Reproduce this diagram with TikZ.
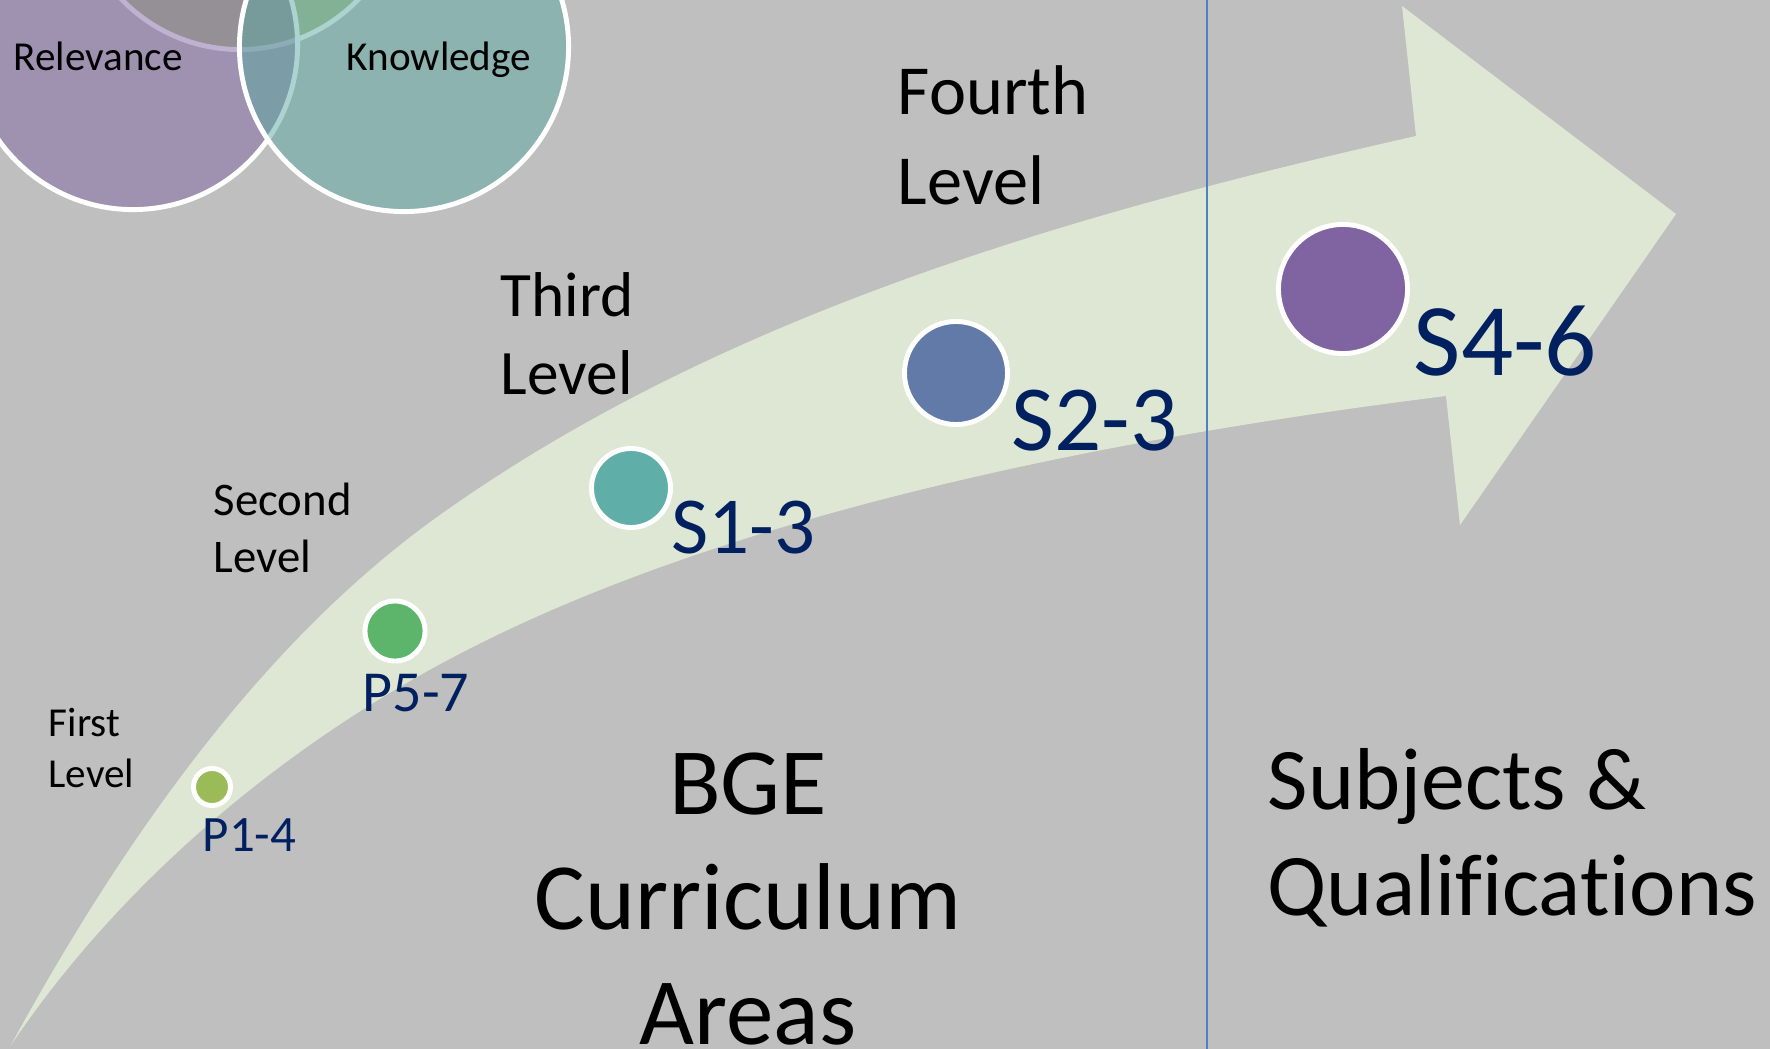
\documentclass[tikz,border=0pt]{standalone}
\usepackage{fontspec}
\setmainfont{Carlito}[Ligatures=CommonOff]
\usetikzlibrary{positioning}
\definecolor{bggray}{RGB}{191,191,191}
\definecolor{arrowgreen}{RGB}{222,231,211}
\definecolor{navyblue}{RGB}{0,32,96}
\definecolor{vennolive}{RGB}{155,187,89}
\definecolor{vennpurple}{RGB}{128,100,162}
\definecolor{vennteal}{RGB}{91,168,160}
\definecolor{dotpone}{RGB}{155,187,89}
\definecolor{dotpfive}{RGB}{92,181,106}
\definecolor{dotsone}{RGB}{95,175,168}
\definecolor{dotstwo}{RGB}{98,122,168}
\definecolor{dotsfour}{RGB}{128,100,162}
\definecolor{divblue}{RGB}{79,129,189}
\tikzset{
  venn/.style={circle, draw=white, line width=1.4pt, fill=#1, fill opacity=0.5, minimum size=3.29cm, inner sep=0pt},
  dot/.style={circle, draw=white, line width=1.4pt, inner sep=0pt},
  lvl/.style={anchor=base west, inner sep=0pt, align=left},
  stage/.style={anchor=base west, inner sep=0pt, text=navyblue},
}

\begin{document}
\begin{tikzpicture}[x=0.01cm, y=-0.01cm]
\useasboundingbox (0,0) rectangle (1770,1049);
\clip (0,0) rectangle (1770,1049);
\fill[bggray] (0,0) rectangle (1770,1049);

% venn at top left
\node[venn=vennolive]  (themes) at (240,-115) {};
\node[venn=vennpurple] (relev)  at (133,45) {};
\node[venn=vennteal]   (knowl)  at (404,47) {};
\node[lvl, font=\fontsize{11.7}{14}\selectfont] (relevtxt) at (13,71)  {Relevance};
\node[lvl, font=\fontsize{11.7}{14}\selectfont] (knowltxt) at (346,71) {Knowledge};

% curved arrow
\coordinate (tail) at (11,1045);
\coordinate (upmid) at (433,520);
\coordinate (lowmid) at (467,650);
\fill[arrowgreen] (tail) .. controls (117,851) and (255,649) .. (upmid)
  .. controls (717,315) and (1075,213) .. (1416,136)
  -- (1402,6) -- (1676,214) -- (1460,525) -- (1446,396)
  .. controls (1109,438) and (734,513) .. (lowmid)
  .. controls (289,741) and (123,879) .. (tail) -- cycle;

% divider
\coordinate (divtop) at (1207,0);
\coordinate (divbot) at (1207,1049);
\draw[divblue, line width=0.6pt] (divtop) -- (divbot);

% stages
\node[dot, fill=dotpone,  minimum size=0.37cm] (pone)  at (212,787) {};
\node[dot, fill=dotpfive, minimum size=0.60cm] (pfive) at (395,631) {};
\node[dot, fill=dotsone,  minimum size=0.79cm] (sone)  at (631,488) {};
\node[dot, fill=dotstwo,  minimum size=1.03cm] (stwo)  at (956,373) {};
\node[dot, fill=dotsfour, minimum size=1.29cm] (sfour) at (1343,289) {};

\node[stage, font=\fontsize{14.5}{17}\selectfont] (ponetxt)  at (202,851)  {P1-4};
\node[stage, font=\fontsize{16.5}{20}\selectfont] (pfivetxt) at (362,711)  {P5-7};
\node[stage, font=\fontsize{23}{28}\selectfont]   (sonetxt)  at (671,553)  {S1-3};
\node[stage, font=\fontsize{26.5}{32}\selectfont] (stwotxt)  at (1011,450) {S2-3};
\node[stage, font=\fontsize{29.3}{35}\selectfont] (sfourtxt) at (1413,376) {S4-6};

% levels (base = last line)
\node[lvl, font=\fontsize{11.7}{14.5}\selectfont] (first)  at (48,787)  {First\\Level};
\node[lvl, font=\fontsize{13.3}{16.2}\selectfont] (second) at (213,572) {Second\\Level};
\node[lvl, font=\fontsize{18}{21.9}\selectfont]   (third)  at (500,394) {Third\\Level};
\node[lvl, font=\fontsize{20}{25.6}\selectfont]   (fourth) at (897,205) {Fourth\\Level};

% phases
\node[anchor=base, inner sep=0pt, align=center, font=\fontsize{27}{32.7}\selectfont] (bge) at (748,1044) {BGE\\Curriculum\\Areas};
\node[lvl, font=\fontsize{25}{29.9}\selectfont] (quals) at (1267,915) {Subjects \&\\Qualifications};
\end{tikzpicture}
\end{document}
